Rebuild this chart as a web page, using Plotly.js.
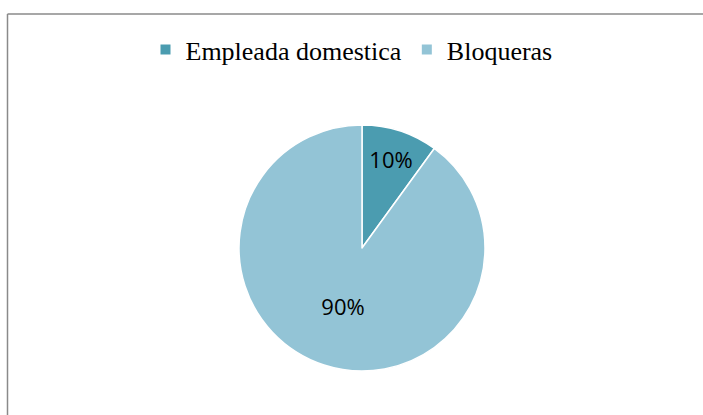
<!DOCTYPE html>
<html>
<head>
<meta charset="utf-8">
<script src="https://cdn.plot.ly/plotly-3.0.1.min.js"></script>
<style>html,body{margin:0;padding:0;background:#fff;}#chart{width:703px;height:415px;}</style>
</head>
<body>
<div id="chart"></div>
<script>
const categories = ["Empleada domestica", "Bloqueras"];
const values = [10, 90];
const colors = ["#4B9CB0", "#93C4D6"];

const W = 703, H = 415;
const cx = 362, cy = 248, r = 123;

const trace = {
  type: "pie",
  labels: categories,
  values: values,
  sort: false,
  direction: "clockwise",
  rotation: 0,
  marker: {colors: colors, line: {color: "#ffffff", width: 1.5}},
  textinfo: "percent",
  textposition: "inside",
  insidetextorientation: "horizontal",
  texttemplate: "%{percent:.0%}",
  textfont: {family: "'Open Sans', 'Liberation Sans', sans-serif", size: 22, color: "#000000"},
  hoverinfo: "label+percent",
  domain: {x: [(cx - r) / W, (cx + r) / W], y: [1 - (cy + r) / H, 1 - (cy - r) / H]}
};

const layout = {
  width: W, height: H,
  margin: {l: 0, r: 0, t: 0, b: 0},
  paper_bgcolor: "#ffffff",
  showlegend: true,
  legend: {
    orientation: "h", x: 0.5, xanchor: "center", y: 1 - 26 / H, yanchor: "top",
    font: {family: "'Liberation Serif', 'Times New Roman', serif", size: 26, color: "#000000"},
    itemsizing: "constant", traceorder: "normal"
  },
  shapes: [
    {type: "line", xref: "paper", yref: "paper", x0: 7.5 / W, x1: 7.5 / W, y0: 0, y1: 1 - 14 / H, line: {color: "#8a8a8a", width: 1.5}},
    {type: "line", xref: "paper", yref: "paper", x0: 7.5 / W, x1: 1, y0: 1 - 14 / H, y1: 1 - 14 / H, line: {color: "#8a8a8a", width: 1.5}}
  ]
};

Plotly.newPlot("chart", [trace], layout, {displayModeBar: false, staticPlot: true});
</script>
</body>
</html>
